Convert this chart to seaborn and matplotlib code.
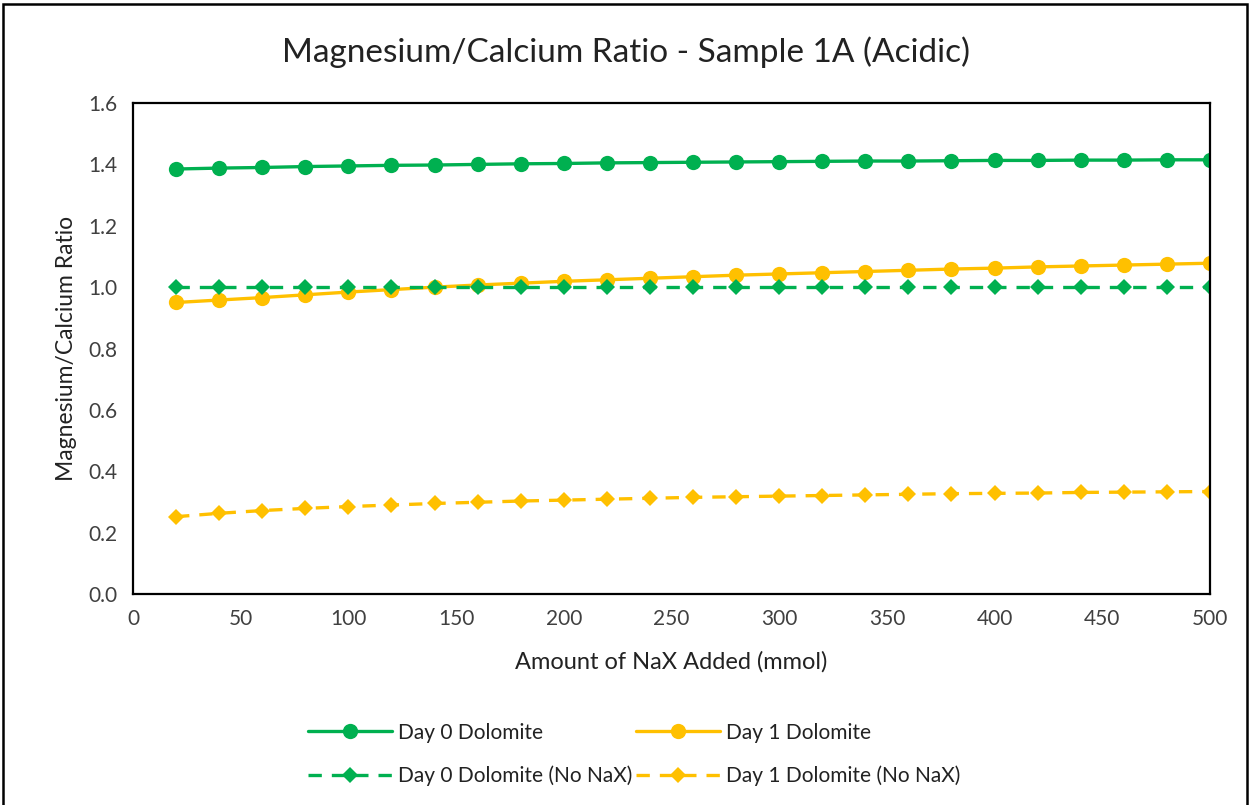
import numpy as np
import pandas as pd
import matplotlib
matplotlib.use("Agg")
import matplotlib.pyplot as plt
from matplotlib.patches import Rectangle
import seaborn as sns

# NaX added (mmol)
nax_added = [20, 40, 60, 80, 100, 120, 140, 160, 180, 200, 220, 240, 260,
             280, 300, 320, 340, 360, 380, 400, 420, 440, 460, 480, 500]

day0_dolomite = [1.385, 1.388, 1.390, 1.393, 1.395, 1.397, 1.398, 1.400, 1.402,
                 1.403, 1.405, 1.406, 1.407, 1.408, 1.409, 1.410, 1.411, 1.411,
                 1.412, 1.413, 1.413, 1.414, 1.414, 1.415, 1.415]
day1_dolomite = [0.950, 0.958, 0.966, 0.975, 0.984, 0.992, 1.000, 1.007, 1.013,
                 1.019, 1.024, 1.029, 1.034, 1.039, 1.043, 1.047, 1.051, 1.055,
                 1.059, 1.062, 1.066, 1.069, 1.072, 1.075, 1.078]
day0_no_nax = [1.0] * 25
day1_no_nax = [0.252, 0.263, 0.272, 0.279, 0.285, 0.290, 0.295, 0.299, 0.303,
               0.306, 0.309, 0.312, 0.315, 0.317, 0.319, 0.321, 0.323, 0.325,
               0.327, 0.328, 0.329, 0.331, 0.332, 0.333, 0.334]

series_names = ["Day 0 Dolomite", "Day 1 Dolomite",
                "Day 0 Dolomite (No NaX)", "Day 1 Dolomite (No NaX)"]
series_values = [day0_dolomite, day1_dolomite, day0_no_nax, day1_no_nax]

x_ticks = [0, 50, 100, 150, 200, 250, 300, 350, 400, 450, 500]
y_ticks = [0.0, 0.2, 0.4, 0.6, 0.8, 1.0, 1.2, 1.4, 1.6]

GREEN = "#00B050"
GOLD = "#FFC000"
styles = {
    "Day 0 Dolomite": dict(color=GREEN, marker="o", ls="-", ms=11),
    "Day 1 Dolomite": dict(color=GOLD, marker="o", ls="-", ms=11),
    "Day 0 Dolomite (No NaX)": dict(color=GREEN, marker="D", ls="--", ms=8.5),
    "Day 1 Dolomite (No NaX)": dict(color=GOLD, marker="D", ls="--", ms=8.5),
}

sns.set_theme(style="white")
plt.rcParams["font.family"] = ["Lato", "DejaVu Sans"]

fig = plt.figure(figsize=(12.51, 8.05), dpi=100)
ax = fig.add_axes([0.1063, 0.2621, 0.8609, 0.6099])

lines = {}
for name, vals in zip(series_names, series_values):
    df = pd.DataFrame({"x": nax_added, "y": vals})
    st = styles[name]
    sns.lineplot(data=df, x="x", y="y", ax=ax, color=st["color"],
                 marker=st["marker"], markersize=st["ms"],
                 markeredgecolor=st["color"], markeredgewidth=0,
                 linewidth=2.4, label=name, legend=False)
    line = ax.get_lines()[-1]
    if st["ls"] == "--":
        line.set_dashes((4, 3))
    lines[name] = line

ax.set_xlim(0, 500)
ax.set_ylim(0, 1.6)
ax.set_xticks(x_ticks)
ax.set_yticks(y_ticks)
ax.set_yticklabels([f"{v:.1f}" for v in y_ticks])
ax.tick_params(axis="both", labelsize=15, colors="#404040", length=5,
               width=1.2, direction="out", pad=6)
ax.tick_params(axis="both", color="black")
for sp in ax.spines.values():
    sp.set_color("black")
    sp.set_linewidth(1.6)

ax.set_xlabel("Amount of NaX Added (mmol)", fontsize=17, color="#222222",
              labelpad=16)
ax.set_ylabel("Magnesium/Calcium Ratio", fontsize=16.5, color="#222222",
              labelpad=8)
fig.suptitle("Magnesium/Calcium Ratio - Sample 1A (Acidic)", fontsize=24,
             color="#222222", y=0.955)

# legend filled column by column: first column Day 0, second Day 1
order = ["Day 0 Dolomite", "Day 0 Dolomite (No NaX)",
         "Day 1 Dolomite", "Day 1 Dolomite (No NaX)"]
leg = fig.legend([lines[n] for n in order], order, loc="center", ncol=2,
                 bbox_to_anchor=(0.507, 0.063), frameon=False, fontsize=15,
                 handlelength=4.0, handletextpad=0.3, columnspacing=0.2,
                 labelspacing=1.1)
for t in leg.get_texts():
    t.set_color("#222222")

# chart-area border
fig.patches.append(Rectangle((0.0025, -0.05), 0.9945, 1.045,
                             transform=fig.transFigure, fill=False,
                             edgecolor="black", linewidth=1.8))

fig.savefig("out.png", dpi=100)
